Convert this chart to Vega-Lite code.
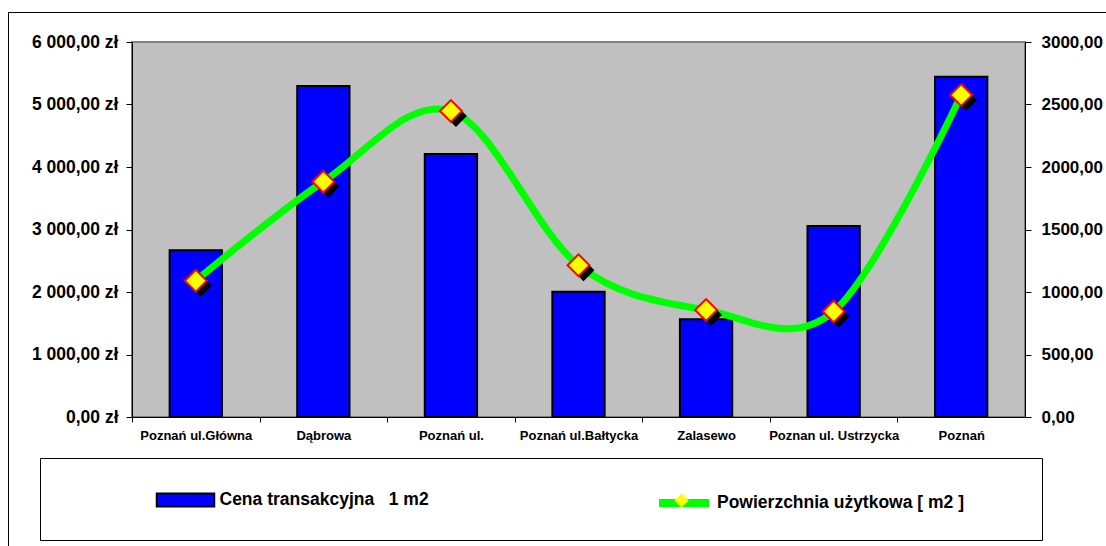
{
  "$schema": "https://vega.github.io/schema/vega-lite/v6.json",
  "width": 893,
  "height": 375,
  "autosize": {"type": "none"},
  "padding": {"left": 132, "top": 42, "right": 81, "bottom": 129},
  "background": "white",
  "config": {
    "font": "Liberation Sans",
    "view": {"fill": "#C0C0C0", "stroke": "#808080", "strokeWidth": 2},
    "axis": {
      "labelFont": "Liberation Sans",
      "labelFontWeight": "bold",
      "labelColor": "black",
      "domainColor": "black",
      "domainWidth": 1,
      "tickColor": "black",
      "ticks": true,
      "grid": false,
      "title": null
    },
    "legend": {"labelFont": "Liberation Sans", "titleFont": "Liberation Sans"}
  },
  "data": {
    "values": [
      {"loc": "Poznań ul.Główna", "cena": 2667, "pow": 1090},
      {"loc": "Dąbrowa", "cena": 5296, "pow": 1882},
      {"loc": "Poznań ul.", "cena": 4208, "pow": 2448},
      {"loc": "Poznań ul.Bałtycka", "cena": 2005, "pow": 1214},
      {"loc": "Zalasewo", "cena": 1563, "pow": 856},
      {"loc": "Poznan ul. Ustrzycka", "cena": 3056, "pow": 844},
      {"loc": "Poznań", "cena": 5445, "pow": 2576}
    ]
  },
  "encoding": {
    "x": {
      "field": "loc",
      "type": "nominal",
      "sort": null,
      "scale": {"paddingInner": 0.59, "paddingOuter": 0.295},
      "axis": {
        "labelAngle": 0,
        "labelFontSize": 13,
        "labelPadding": 7,
        "labelLimit": 300,
        "ticks": true,
        "tickColor": "black",
        "tickWidth": 1,
        "tickOffset": -63.8,
        "labelOffset": 63.8,
        "tickSize": 5
      }
    }
  },
  "layer": [
    {
      "mark": {"type": "bar", "stroke": "black", "strokeWidth": 2},
      "encoding": {
        "y": {
          "field": "cena",
          "type": "quantitative",
          "scale": {"domain": [0, 6000], "nice": false},
          "axis": {
            "orient": "left",
            "values": [0, 1000, 2000, 3000, 4000, 5000, 6000],
            "labelExpr": "replace(replace(format(datum.value, ',.2f'), ',', ' '), '.', ',') + ' zł'",
            "labelFontSize": 17.5,
            "tickSize": 6,
            "labelPadding": 8
          }
        },
        "fill": {
          "datum": "Cena transakcyjna\u00a0\u00a0\u00a01 m2",
          "scale": {"domain": ["Cena transakcyjna\u00a0\u00a0\u00a01 m2"], "range": ["#0000FF"]},
          "legend": {
            "orient": "none",
            "legendX": 27.5,
            "legendY": 432,
            "title": null,
            "padding": 0,
            "zindex": 2,
            "symbolType": "M-1.15,-0.26H1.15V0.26H-1.15Z",
            "symbolSize": 2500,
            "symbolStrokeColor": "#000000",
            "symbolStrokeWidth": 2,
            "symbolOpacity": 1,
            "labelOffset": 8,
            "labelFontSize": 17.5,
            "labelFontWeight": "bold",
            "labelColor": "black",
            "labelLimit": 1000
          }
        },
        "opacity": {
          "datum": "frame",
          "scale": {"domain": ["frame"], "range": [1]},
          "legend": {
            "orient": "none",
            "legendX": -124,
            "legendY": -30,
            "title": null,
            "padding": 0,
            "zindex": 1,
            "strokeColor": "#000000",
            "symbolType": "M-1,0H1",
            "symbolSize": 1214404,
            "clipHeight": 538,
            "symbolOpacity": 0,
            "symbolStrokeColor": "transparent",
            "labelExpr": "''",
            "labelOffset": 0
          }
        }
      }
    },
    {
      "layer": [
        {
          "mark": {"type": "line", "interpolate": "cardinal", "tension": 0, "strokeWidth": 7, "strokeCap": "round"},
          "encoding": {
            "y": {
              "field": "pow",
              "type": "quantitative",
              "scale": {"domain": [0, 3000], "nice": false},
              "axis": {
                "orient": "right",
                "values": [0, 500, 1000, 1500, 2000, 2500, 3000],
                "labelExpr": "replace(format(datum.value, '.2f'), '.', ',')",
                "labelFontSize": 17,
                "tickSize": 6,
                "labelPadding": 10
              }
            },
            "stroke": {
              "datum": "Powierzchnia użytkowa [ m2 ]",
              "scale": {"domain": ["Powierzchnia użytkowa [ m2 ]"], "range": ["#00FF00"]},
              "legend": {
                "orient": "none",
                "legendX": 523,
                "legendY": 432,
                "title": null,
                "padding": 0,
                "zindex": 2,
                "symbolType": "M-1,0H1",
                "symbolSize": 2500,
                "symbolStrokeWidth": 8,
                "symbolOpacity": 1,
                "labelOffset": 4,
                "labelFontSize": 17.5,
                "labelFontWeight": "bold",
                "labelColor": "black",
                "labelLimit": 1000
              }
            }
          }
        },
        {
          "mark": {"type": "point", "shape": "diamond", "filled": true, "opacity": 1, "size": 480, "xOffset": 5, "yOffset": 5, "strokeWidth": 0},
          "encoding": {
            "y": {"field": "pow", "type": "quantitative", "scale": {"domain": [0, 3000], "nice": false}},
            "color": {
              "datum": "box",
              "scale": {"domain": ["box"], "range": ["#000000"]},
              "legend": {
                "orient": "none",
                "legendX": -92,
                "legendY": 416,
                "title": null,
                "padding": 16,
                "zindex": 1,
                "strokeColor": "#000000",
                "fillColor": "white",
                "symbolType": "M-1,0H1",
                "symbolSize": 937024,
                "clipHeight": 50,
                "symbolOpacity": 0,
                "symbolStrokeColor": "transparent",
                "symbolFillColor": "transparent",
                "labelExpr": "''",
                "labelOffset": 0
              }
            }
          }
        },
        {
          "mark": {"type": "point", "filled": true, "fill": "#FFFF00", "stroke": "#FF0000", "strokeWidth": 2, "opacity": 1, "size": 480},
          "encoding": {
            "y": {"field": "pow", "type": "quantitative", "scale": {"domain": [0, 3000], "nice": false}},
            "shape": {
              "datum": "marker",
              "scale": {"domain": ["marker"], "range": ["diamond"]},
              "legend": {
                "orient": "none",
                "legendX": 541,
                "legendY": 450,
                "title": null,
                "padding": 0,
                "zindex": 3,
                "symbolType": "M0,-1L0.72,0L0,1L-0.72,0Z",
                "symbolSize": 200,
                "symbolFillColor": "#FFFF00",
                "symbolStrokeColor": "#FF0000",
                "symbolStrokeWidth": 2,
                "symbolOpacity": 1,
                "labelExpr": "''",
                "labelOffset": 0
              }
            }
          }
        }
      ]
    }
  ],
  "resolve": {"scale": {"y": "independent"}}
}
